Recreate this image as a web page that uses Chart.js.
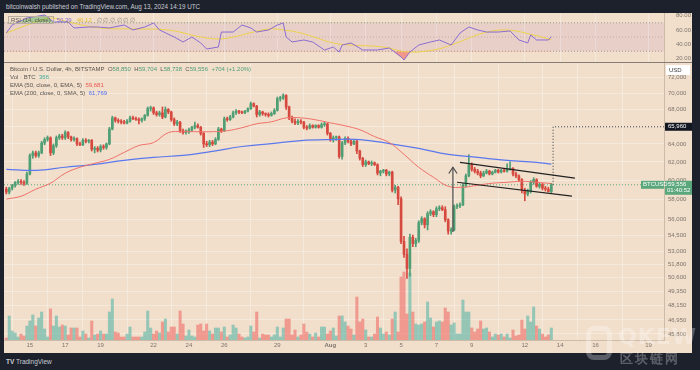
<!DOCTYPE html>
<html>
<head>
<meta charset="utf-8">
<script src="https://cdn.jsdelivr.net/npm/chart.js@4.4.1/dist/chart.umd.min.js"></script>
<style>
body { margin: 0; width: 700px; height: 370px; background: #1d212c; overflow: hidden; position: relative; font-family: "Liberation Sans", Arial, sans-serif; }
#frame { position: absolute; left: 4px; top: 13px; width: 688px; height: 340px; background: #f1dfcc; }
#sep { position: absolute; left: 4px; top: 62px; width: 688px; height: 1px; background: #857d75; }
#rsiCanvas { position: absolute; left: 4px; top: 13px; }
#priceCanvas { position: absolute; left: 4px; top: 63px; }
.txt { position: absolute; white-space: nowrap; font-size: 6px; line-height: 8px; color: #5a534c; }
#hdr { left: 6px; top: 3px; color: #c9ccd4; font-size: 6.3px; }
#rsiLeg { left: 8px; top: 16px; }
#rsiLeg .box { border: 1px solid #b9ad9f; padding: 0 2px; margin-right: 3px; }
.lg { left: 10px; }
.up { color: #4f9e74; }
#foot { left: 6px; top: 358px; color: #c9ccd4; font-size: 6.5px; }
.wm { position: absolute; color: rgba(255,255,255,0.28); font-family: "DejaVu Sans", sans-serif; font-weight: bold; white-space: nowrap; }
#wmLogo { position: absolute; left: 586px; top: 326px; width: 26px; height: 34px; border: 5px solid rgba(255,255,255,0.28); border-radius: 8px; box-sizing: border-box; }
</style>
</head>
<body>
<div id="frame"></div>
<canvas id="rsiCanvas" width="688" height="49"></canvas>
<div id="sep"></div>
<canvas id="priceCanvas" width="688" height="289"></canvas>

<div class="txt" id="hdr">bitcoinwalsh published on TradingView.com, Aug 13, 2024 14:19 UTC</div>
<div class="txt" id="rsiLeg"><span class="box">RSI (14, close)</span><span style="color:#8a6cd0">50.39</span>&nbsp;&nbsp;&nbsp;<span style="color:#e2bd2c">46.12</span>&nbsp;&nbsp;&nbsp;<span style="color:#8d847b">∅ ∅ ∅ ∅ ∅ ∅</span></div>
<div class="txt lg" style="top:65px">Bitcoin / U.S. Dollar, 4h, BITSTAMP&nbsp; O<span class="up">58,850</span>&nbsp; H<span class="up">59,704</span>&nbsp; L<span class="up">58,738</span>&nbsp; C<span class="up">59,556</span>&nbsp; <span class="up">+704 (+1.20%)</span></div>
<div class="txt lg" style="top:73px">Vol · BTC&nbsp; <span style="color:#3fa894">366</span></div>
<div class="txt lg" style="top:81px">EMA (50, close, 0, EMA, 5)&nbsp; <span style="color:#e8574f">59,681</span></div>
<div class="txt lg" style="top:89px">EMA (200, close, 0, SMA, 5)&nbsp; <span style="color:#4f6ef0">61,769</span></div>
<div class="txt" id="foot"><b>TV</b> TradingView</div>
<div id="wmLogo"></div>
<div class="wm" style="left:618px;top:324px;font-size:22px;letter-spacing:1px">QKEW</div>
<div class="wm" style="left:620px;top:350px;font-size:13px;letter-spacing:2px">区块链网</div>

<script>
// 4h candles, BITSTAMP BTC/USD, first candle Jul 13 16:00 UTC
const startTime = Date.UTC(2024, 6, 13, 16);
const opens = [59100,58800,59200,59500,59800,59900,59800,59700,60700,62700,63000,62700,63000,64100,64500,64700,63000,63800,64700,64900,
  64700,65300,64800,64500,64600,64000,63900,64400,64300,64400,63400,63500,63300,63700,63600,64000,65700,67000,66700,66600,
  66500,66400,66600,67000,66900,66800,66700,66900,67300,68100,68200,67600,67400,67600,67100,68000,67700,66800,66300,66500,
  65500,65300,65400,65600,65900,66100,65900,65200,64000,63900,64200,64000,64500,65700,65500,66900,66800,67100,67600,67800,
  67700,67600,67800,68100,68700,68400,67400,67700,67500,67400,67300,67500,67900,69300,69400,69700,68300,67000,66600,66400,
  66600,66500,65900,65800,66100,65900,66100,65900,66200,66300,65200,64500,64700,64800,62600,64100,64600,64300,64000,64300,
  63200,62400,61700,62000,61800,61900,61700,60800,61000,61100,60700,60900,59000,59300,58100,53900,52700,51400,54300,53700,
  54000,55700,56100,55500,56600,56800,56500,57100,57200,57000,56000,54900,55000,57300,57400,57500,59500,60500,61700,61200,
  61000,60800,60500,60800,61000,60700,60900,61100,60900,61100,61000,61200,61300,60700,60500,60100,59000,58600,58900,59800,
  60100,59400,59600,59200,59100,58850];
const highs = [59300,59300,59600,59900,60100,60100,60000,60900,62900,63200,63200,63200,64300,64700,64900,64800,64000,64900,65100,65100,
  65500,65400,64900,64800,64700,64200,64600,64600,64500,64500,63700,63700,63900,63900,64100,65900,67200,67100,66900,66800,
  66700,66800,67200,67200,67100,67000,67000,67400,68300,68400,68300,67800,67800,68300,68300,68100,67800,67000,66700,66600,
  65700,65600,65800,66000,66500,66300,66000,65300,64300,64400,64400,64700,65900,65800,67100,67100,67300,67800,68000,67900,
  67800,67900,68200,68900,68800,68500,67900,67800,67600,67600,67700,68100,69500,69600,69900,69800,68400,67200,66900,66800,
  66800,66600,66100,66300,66200,66200,66200,66400,66500,66400,65300,64900,64900,64900,64300,64800,64800,64500,64500,64400,
  63300,62500,62200,62100,62100,62000,61800,61100,61200,61200,61000,61000,59500,59400,58300,54400,53200,54600,54500,54200,
  55900,56300,56200,56800,57000,56900,57300,57400,57400,57300,56100,55200,57500,57600,57700,59700,60700,62800,61900,61400,
  61200,61000,61000,61200,61100,61000,61200,61200,61200,61200,61800,62000,61400,60900,60600,60200,59200,59100,60000,60300,
  60200,59800,59700,59400,59300,59704];
const lows = [58600,58600,59000,59300,59600,59600,59500,59600,60600,62400,62500,62500,62900,63900,64300,62700,62800,63600,64500,64500,
  64500,64600,64300,64300,63800,63800,63800,64100,64100,63200,63000,63100,63100,63400,63400,63900,65600,66500,66400,66300,
  66300,66300,66500,66800,66700,66300,66500,66700,67200,67800,67400,67200,67200,66900,67000,67500,66600,66100,66100,65300,
  65100,65100,65200,65400,65700,65800,65000,63600,63700,63700,63800,63900,64400,65300,65400,66600,66700,67000,67400,67500,
  67500,67500,67700,68000,68300,67100,67200,67300,67200,67100,67200,67400,67800,69000,69200,68000,66800,66400,66200,66200,
  66300,65700,65600,65700,65800,65800,65800,65800,66000,65000,64300,64200,64400,62400,62300,63900,64100,63800,63900,62900,
  62200,61500,61500,61700,61600,61600,60600,60500,60800,60500,60500,58800,58700,57500,53700,52400,50500,50700,53400,53400,
  53800,55500,55200,55000,56400,56300,56300,56900,56900,55800,54600,54600,54900,57100,57200,57400,59300,60400,61000,60800,
  60600,60300,60400,60700,60600,60600,60800,60800,60800,60900,60900,61100,60500,60300,59900,58700,57900,58400,58700,59600,
  59300,59200,59000,58900,58800,58738];
const closes = [58800,59200,59500,59800,59900,59800,59700,60700,62700,63000,62700,63000,64100,64500,64700,63000,63800,64700,64900,64700,
  65300,64800,64500,64600,64000,63900,64400,64300,64400,63400,63500,63300,63700,63600,64000,65700,67000,66700,66600,66500,
  66400,66600,67000,66900,66800,66700,66900,67300,68100,68200,67600,67400,67600,67100,68000,67700,66800,66300,66500,65500,
  65300,65400,65600,65900,66100,65900,65200,64000,63900,64200,64000,64500,65700,65500,66900,66800,67100,67600,67800,67700,
  67600,67800,68100,68700,68400,67400,67700,67500,67400,67300,67500,67900,69300,69400,69700,68300,67000,66600,66400,66600,
  66500,65900,65800,66100,65900,66100,65900,66200,66300,65200,64500,64700,64800,62600,64100,64600,64300,64000,64300,63200,
  62400,61700,62000,61800,61900,61700,60800,61000,61100,60700,60900,59000,59300,58100,53900,52700,51400,54300,53700,54000,
  55700,56100,55500,56600,56800,56500,57100,57200,57000,56000,54900,55000,57300,57400,57500,59500,60500,61700,61200,61000,
  60800,60500,60800,61000,60700,60900,61100,60900,61100,61000,61200,61300,60700,60500,60100,59000,58600,58900,59800,60100,
  59400,59600,59200,59100,58850,59556];
const volumes = [2,24,9,7,3,6,4,14,19,25,14,22,28,11,3,31,14,24,13,15,
  14,5,12,12,12,3,9,6,2,19,5,6,9,6,6,28,41,8,7,3,
  3,6,13,3,3,3,3,8,29,12,6,9,7,18,21,8,13,13,6,29,
  16,4,10,4,3,15,16,9,16,9,6,12,12,8,13,3,5,15,12,6,
  3,2,3,14,8,28,2,6,5,5,3,5,13,3,12,21,21,5,10,3,
  5,16,8,6,3,7,3,13,13,6,9,12,4,24,24,18,14,11,5,43,
  18,21,10,3,3,6,23,12,6,8,5,21,28,8,63,68,26,67,28,16,
  15,16,18,38,22,13,18,19,18,32,28,15,17,6,6,40,28,28,12,8,
  11,19,11,12,8,3,6,5,6,3,6,2,10,4,5,20,11,24,18,33,
  14,11,6,3,5,12];

// moving averages, sampled along the candles
const emaIdx = [0,5,10,15,20,25,30,35,40,45,50,55,60,65,70,75,80,85,90,95,100,105,110,115,120,125,130,135,140,145,150,155,160,165,170,175,180,185];
const ema50 = [58070,58370,59090,59720,60780,61420,61850,62280,63050,63820,64150,65280,65390,65390,65390,65500,65850,66310,66540,67000,
  67000,66770,66420,66070,65620,64830,64150,62830,61420,60350,59400,59300,59510,59720,59820,59930,59820,59681];
const smaIdx = [0,10,20,30,40,50,60,70,80,90,100,110,120,130,140,150,160,170,180,185];
const sma200 = [61200,61090,61420,61740,62170,62500,62720,63160,63710,64040,64380,64490,64490,64040,63490,62830,62500,62170,61960,61769];

// RSI pane
const rsiIdx = [0,2,7,9,13,14,16,21,23,28,31,35,40,43,47,50,52,57,60,63,66,68,72,73,77,80,83,85,89,92,94,95,97,101,104,108,111,113,114,117,
  121,126,130,134,135,137,140,144,147,151,154,157,160,163,167,171,174,177,178,180,184,185];
const rsiVals = [55.6,66.9,76.8,78.2,81.0,78.2,71.1,71.1,62.7,64.1,64.1,62.7,66.9,59.9,64.1,69.7,59.9,50.0,43.0,50.0,
  41.6,33.1,35.9,57.0,57.0,66.9,62.7,57.0,59.9,66.9,69.7,50.0,43.0,45.8,43.0,31.7,35.9,28.9,38.7,41.6,
  31.7,31.7,34.5,21.8,17.6,28.9,38.7,43.0,45.8,38.7,55.6,64.1,59.9,57.0,57.0,58.5,45.8,41.6,52.8,45.8,45.8,50.39];
const rsiMaIdx = [0,9,15,21,32,43,55,66,72,77,89,94,100,111,117,128,136,145,151,162,170,179,185];
const rsiMaVals = [55.6,69.7,76.8,71.1,62.7,61.3,59.9,50.0,47.2,50.0,61.3,59.9,55.6,41.6,38.7,35.9,29.0,31.7,38.7,55.6,59.9,52.8,46.12];
const rsiTicks = [20, 40, 60, 80];

// drawings: channel, flagpole arrow, measured target
const upperIdx = [154, 193], upperPrice = [61960, 60250];
const lowerIdx = [153, 192], lowerPrice = [59820, 58370];
const poleIdx = [151.6, 151.6], polePrice = [54800, 61420];
const headIdx = [150.2, 151.6, 153.0], headPrice = [60750, 61420, 60750];
const targetPrice = 65960;

const priceTicks = [72000, 70000, 68000, 66000, 64000, 62000, 60000, 58000, 56000, 54500, 53000, 51800, 50600, 49350, 48150, 46950, 45800];
const tickDates = ['2024-07-15','2024-07-17','2024-07-19','2024-07-22','2024-07-24','2024-07-26','2024-07-29','2024-08-01',
  '2024-08-03','2024-08-05','2024-08-07','2024-08-09','2024-08-12','2024-08-14','2024-08-16','2024-08-19'];

const X_MIN = -0.78, X_MAX = 223.25;
const GREEN = '#4f9e74', RED = '#d6493f';
const lastClose = closes[closes.length - 1];

const candleOf = d => (Date.parse(d + 'T00:00:00Z') - startTime) / (4 * 3600e3);
const tickIdx = tickDates.map(candleOf);
const tickText = tickDates.map(d => d.endsWith('-01') ? 'Aug' : String(Number(d.slice(8))));
const pts = (xs, ys) => xs.map((x, i) => ({ x: x, y: ys[i] }));
const up = closes.map((c, i) => c >= opens[i]);

const gridCol = 'rgba(255,255,255,0.32)';
const labelCol = '#7d746b';

function fixAxis(w, h) {
  return s => {
    if (w !== null) s.width = w;
    if (h !== null) s.height = h;
    s.paddingTop = 0; s.paddingBottom = 0; s.paddingLeft = 0; s.paddingRight = 0;
  };
}

const xScale = (showLabels) => ({
  type: 'linear', min: X_MIN, max: X_MAX, offset: false,
  afterBuildTicks: s => { s.ticks = tickIdx.map(v => ({ value: v })); },
  ticks: {
    display: showLabels, autoSkip: false, maxRotation: 0, padding: 2, color: labelCol,
    font: ctx => ({ size: 6, weight: ctx.tick && ctx.tick.label === 'Aug' ? 'bold' : 'normal', family: 'Liberation Sans' }),
    callback: v => tickText[tickIdx.indexOf(v)]
  },
  grid: { color: gridCol, drawTicks: false },
  border: { display: showLabels, color: '#cbbca9' },
  afterFit: fixAxis(null, showLabels ? 12 : 0)
});

// candle pieces
const wickData = closes.map((c, i) => ({ x: i, y: [lows[i], highs[i]] }));
const bodyData = closes.map((c, i) => ({ x: i, y: [opens[i], c] }));
const volData = volumes.map((v, i) => ({ x: i, y: v }));

const lineSet = (data, color, width, extra) => Object.assign({
  type: 'line', data: data, borderColor: color, borderWidth: width, pointRadius: 0, fill: false, tension: 0, order: 1
}, extra || {});

const axisBoxes = {
  id: 'axisBoxes',
  afterDraw(chart) {
    const ctx = chart.ctx, y = chart.scales.y, a = chart.chartArea;
    const left = a.right + 1, w = 27;
    ctx.save();
    ctx.font = '6px "Liberation Sans"';
    ctx.textBaseline = 'middle';
    // currency box
    ctx.fillStyle = '#ffffff';
    ctx.fillRect(left + 1, 2, w - 3, 10);
    ctx.fillStyle = '#3b3b3b';
    ctx.fillText('USD', left + 4, 7);
    // target label
    let py = y.getPixelForValue(targetPrice);
    ctx.fillStyle = '#131722';
    ctx.fillRect(left, py - 4, w, 8);
    ctx.fillStyle = '#ffffff';
    ctx.fillText(targetPrice.toLocaleString('en-US'), left + 3, py);
    // last price label
    py = y.getPixelForValue(lastClose);
    ctx.fillStyle = '#5aa77c';
    ctx.fillRect(left, py - 4, w, 14);
    ctx.fillRect(left - 24, py - 4, 23, 8);
    ctx.fillStyle = '#ffffff';
    ctx.fillText(lastClose.toLocaleString('en-US'), left + 3, py);
    ctx.fillText('01:40:52', left + 2, py + 6);
    ctx.fillText('BTCUSD', left - 22, py);
    ctx.restore();
  }
};

new Chart(document.getElementById('priceCanvas'), {
  type: 'bar',
  data: {
    datasets: [
      lineSet(pts(upperIdx, upperPrice), '#222222', 1.2, { order: 0 }),
      lineSet(pts(lowerIdx, lowerPrice), '#222222', 1.2, { order: 0 }),
      lineSet(pts(poleIdx, polePrice), '#4a4a4a', 1.2, { order: 0 }),
      lineSet(pts(headIdx, headPrice), '#4a4a4a', 1.2, { order: 0 }),
      lineSet([{ x: 185.6, y: lastClose }, { x: 185.6, y: targetPrice }, { x: X_MAX, y: targetPrice }], '#333333', 1, { borderDash: [1, 2], order: 0 }),
      lineSet([{ x: X_MIN, y: lastClose }, { x: X_MAX, y: lastClose }], 'rgba(79,158,116,0.9)', 1, { borderDash: [1, 2], order: 4 }),
      lineSet(pts(emaIdx, ema50), '#f07068', 1, { tension: 0.4 }),
      lineSet(pts(smaIdx, sma200), '#5b78ec', 1.2, { tension: 0.4 }),
      { type: 'bar', data: wickData, backgroundColor: up.map(u => u ? GREEN : RED), barThickness: 1, grouped: false, order: 3 },
      { type: 'bar', data: bodyData, backgroundColor: up.map(u => u ? GREEN : RED), barThickness: 2, minBarLength: 1, grouped: false, order: 2 },
      { type: 'bar', data: volData, yAxisID: 'yv', backgroundColor: up.map(u => u ? 'rgba(38,166,154,0.45)' : 'rgba(239,83,80,0.5)'), barThickness: 2.4, grouped: false, order: 10 }
    ]
  },
  options: {
    responsive: false, animation: false, devicePixelRatio: 1, events: [],
    layout: { padding: 0 },
    plugins: { legend: { display: false }, tooltip: { enabled: false } },
    scales: {
      x: xScale(true),
      y: {
        type: 'logarithmic', position: 'right', min: 45315, max: 73797,
        afterBuildTicks: s => { s.ticks = priceTicks.map(v => ({ value: v })); },
        ticks: { color: labelCol, padding: 4, font: { size: 6, family: 'Liberation Sans' }, callback: v => Number(v).toLocaleString('en-US') },
        grid: { color: gridCol, drawTicks: false },
        border: { color: '#cbbca9' },
        afterFit: fixAxis(28, null)
      },
      yv: { type: 'linear', display: false, min: 0, max: 277 }
    }
  },
  plugins: [axisBoxes]
});

new Chart(document.getElementById('rsiCanvas'), {
  type: 'line',
  data: {
    datasets: [
      lineSet([{ x: X_MIN, y: 70 }, { x: X_MAX, y: 70 }], 'rgba(120,110,105,0.6)', 1, { borderDash: [1, 2], fill: '+1', backgroundColor: 'rgba(170,110,170,0.12)', order: 5 }),
      lineSet([{ x: X_MIN, y: 30 }, { x: X_MAX, y: 30 }], 'rgba(120,110,105,0.6)', 1, { borderDash: [1, 2], order: 5 }),
      lineSet([{ x: X_MIN, y: 50 }, { x: X_MAX, y: 50 }], 'rgba(120,110,105,0.35)', 1, { borderDash: [1, 2], order: 5 }),
      lineSet(pts(rsiIdx, rsiVals), 'rgba(0,0,0,0)', 0, { fill: { target: { value: 30 }, above: 'rgba(0,0,0,0)', below: 'rgba(240,90,90,0.55)' }, order: 3 }),
      lineSet(pts(rsiIdx, rsiVals), '#8a6cd0', 1, { fill: { target: { value: 70 }, above: 'rgba(76,175,80,0.45)', below: 'rgba(0,0,0,0)' }, order: 1 }),
      lineSet(pts(rsiMaIdx, rsiMaVals), '#ecd04a', 1, { tension: 0.4, order: 2 })
    ]
  },
  options: {
    responsive: false, animation: false, devicePixelRatio: 1, events: [],
    layout: { padding: 0 },
    plugins: { legend: { display: false }, tooltip: { enabled: false } },
    scales: {
      x: xScale(false),
      y: {
        position: 'right', min: 14.8, max: 83.8,
        afterBuildTicks: s => { s.ticks = rsiTicks.map(v => ({ value: v })); },
        ticks: { color: labelCol, padding: 4, font: { size: 6, family: 'Liberation Sans' }, callback: v => Number(v).toFixed(2) },
        grid: { display: false },
        border: { color: '#cbbca9' },
        afterFit: fixAxis(28, null)
      }
    }
  }
});
</script>
</body>
</html>
